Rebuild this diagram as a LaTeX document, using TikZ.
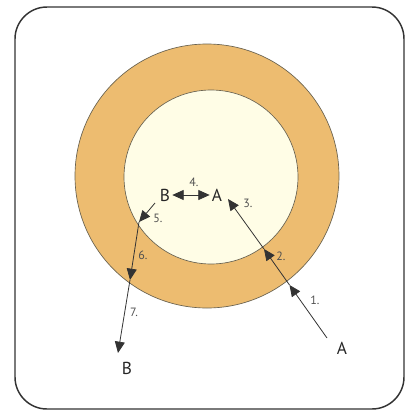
\documentclass[tikz,border=0pt]{standalone}
\usepackage{fontspec}
\setmainfont{PT Sans}
\usepackage{tikz}
\usetikzlibrary{arrows.meta}
\usetikzlibrary{calc}

\definecolor{ringcol}{RGB}{237,188,112}
\definecolor{corecol}{RGB}{255,253,230}
\definecolor{edgecol}{RGB}{105,98,80}
\definecolor{numcol}{RGB}{80,80,80}

\tikzset{
  letter/.style={font=\fontsize{13}{15}\selectfont, text=black!85, inner sep=1.5pt},
  num/.style={font=\fontsize{9}{10}\selectfont, text=numcol, inner sep=0pt},
  path/.style={draw=black!80, line width=0.6pt, -{Triangle[length=8.5pt,width=7.5pt]}},
}

\begin{document}
\begin{tikzpicture}[x=0.75pt, y=-0.75pt]

      \useasboundingbox (0,0) rectangle (408,412);

      \def\outerr{132} % outer radius
      \def\innerr{87} % inner radius

      \draw[black!80, line width=1.1pt, rounded corners=24pt] (15,7) rectangle (404,409);

      \coordinate (c) at (207,176);
      \fill[ringcol] (c) circle (\outerr);
      \draw[edgecol, line width=0.5pt] (c) circle (\outerr);
      \fill[corecol] (211,177) circle (\innerr);
      \draw[edgecol, line width=0.5pt] (211,177) circle (\innerr);

      \node[letter] (aout) at (342,348) {A};
      \node[letter] (ain) at (217,195) {A};
      \node[letter] (bin) at (165,195) {B};
      \node[letter] (bout) at (127,368) {B};

      \coordinate (s1) at (327,338);
      \coordinate (t1) at (289.5,285);
      \coordinate (t2) at (264,249);
      \coordinate (t3) at (228,199);

      \coordinate (s5) at (155,203);
      \coordinate (t5) at (139,222);
      \coordinate (t6) at (130,280);
      \coordinate (t7) at (118,353);

      \draw[path] (s1) -- (t1);
      \draw[path] (t1) -- (t2);
      \draw[path] (t2) -- (t3);
      \draw[path, {Triangle[length=8.5pt,width=7.5pt]}-{Triangle[length=8.5pt,width=7.5pt]}] (bin) -- (ain);
      \draw[path] (s5) -- (t5);
      \draw[path] (t5) -- (t6);
      \draw[path] (t6) -- (t7);

      \node[num] (n1) at (315,300) {1.};
      \node[num] (n2) at (281,256) {2.};
      \node[num] (n3) at (248,203) {3.};
      \node[num] (n4) at (194,182) {4.};
      \node[num] (n5) at (158,218) {5.};
      \node[num] (n6) at (143,255) {6.};
      \node[num] (n7) at (134,312) {7.};

    \end{tikzpicture}
\end{document}
